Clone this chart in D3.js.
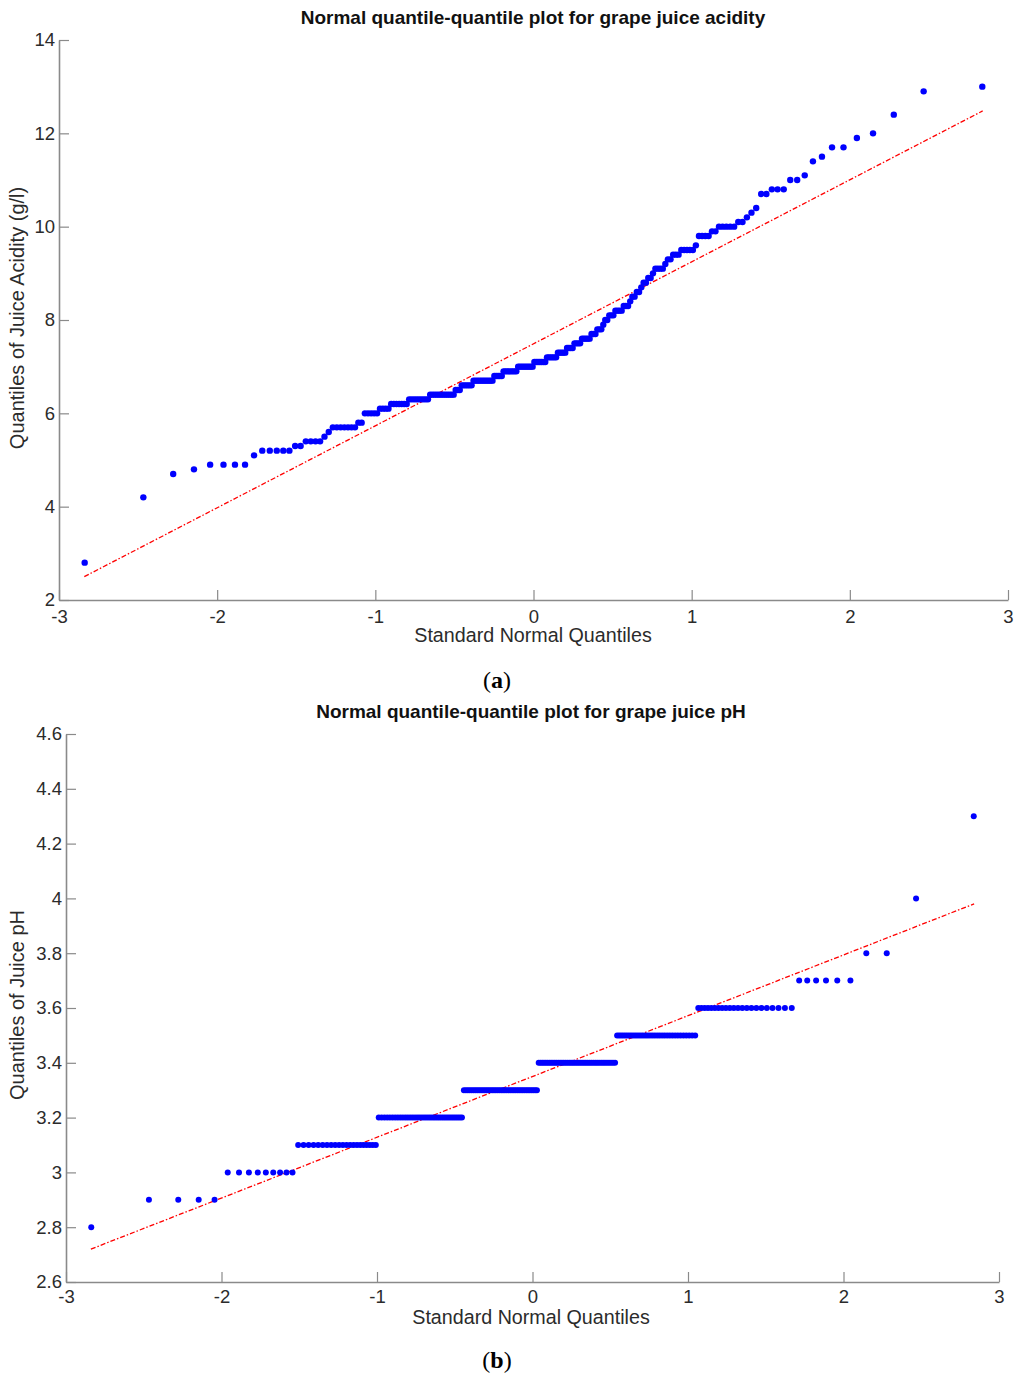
<!DOCTYPE html>
<html><head><meta charset="utf-8">
<script src="https://cdn.jsdelivr.net/npm/d3@7"></script>
<style>body{margin:0;background:#fff}svg{display:block}</style>
</head><body>
<svg id="c" width="1024" height="1384"></svg>
<script>
// ---------- data ----------
const xTicks = [-3, -2, -1, 0, 1, 2, 3];
const xTickLabels = ["-3", "-2", "-1", "0", "1", "2", "3"];

// sorted grape-juice acidity sample (g/l): distinct values and how many samples share each
const acidityValues = [2.8,4.2,4.7,4.8,4.9,5.1,5.2,5.3,5.4,5.5,5.6,5.7,5.8,6.0,6.1,6.2,6.3,6.4,6.5,6.6,6.7,6.8,6.9,7.0,7.1,7.2,7.3,7.4,7.5,7.6,7.7,7.8,7.9,8.0,8.1,8.2,8.3,8.4,8.5,8.6,8.7,8.8,8.9,9.0,9.1,9.2,9.3,9.4,9.5,9.6,9.8,9.9,10.0,10.1,10.2,10.3,10.4,10.7,10.8,11.0,11.1,11.4,11.5,11.7,11.9,12.0,12.4,12.9,13.0];
const acidityCounts = [1,1,1,1,4,1,5,2,4,1,1,7,2,5,4,7,9,12,3,6,11,5,8,9,7,6,5,4,4,5,3,3,1,2,3,4,3,1,2,2,1,2,2,1,4,1,2,3,5,1,4,2,5,2,1,1,1,2,3,2,1,1,1,2,1,1,1,1,1];
const acidityYTicks = [2, 4, 6, 8, 10, 12, 14];
const acidityYTickLabels = ["2", "4", "6", "8", "10", "12", "14"];
const acidityLineX = [-2.84, 2.84];
const acidityLineY = [2.5, 12.48];

// sorted grape-juice pH sample: distinct values and counts
const phValues = [2.8, 2.9, 3.0, 3.1, 3.2, 3.3, 3.4, 3.5, 3.6, 3.7, 3.8, 4.0, 4.3];
const phCounts = [1, 4, 9, 21, 37, 41, 42, 33, 22, 6, 2, 1, 1];
const phYTicks = [2.6, 2.8, 3.0, 3.2, 3.4, 3.6, 3.8, 4.0, 4.2, 4.4, 4.6];
const phYTickLabels = ["2.6", "2.8", "3", "3.2", "3.4", "3.6", "3.8", "4", "4.2", "4.4", "4.6"];
const phLineX = [-2.84, 2.84];
const phLineY = [2.72, 3.98];

// ---------- helpers ----------
// inverse standard normal CDF (Acklam) – theoretical quantiles of a Q-Q plot
function probit(p) {
  const a = [-3.969683028665376e+01, 2.209460984245205e+02, -2.759285104469687e+02, 1.383577518672690e+02, -3.066479806614716e+01, 2.506628277459239e+00];
  const b = [-5.447609879822406e+01, 1.615858368580409e+02, -1.556989798598866e+02, 6.680131188771972e+01, -1.328068155288572e+01];
  const c = [-7.784894002430293e-03, -3.223964580411365e-01, -2.400758277161838e+00, -2.549732539343734e+00, 4.374664141464968e+00, 2.938163982698783e+00];
  const d = [7.784695709041462e-03, 3.224671290700398e-01, 2.445134137142996e+00, 3.754408661907416e+00];
  const pl = 0.02425, ph = 1 - pl;
  let q, r;
  if (p < pl) {
    q = Math.sqrt(-2 * Math.log(p));
    return (((((c[0]*q+c[1])*q+c[2])*q+c[3])*q+c[4])*q+c[5]) / ((((d[0]*q+d[1])*q+d[2])*q+d[3])*q+1);
  }
  if (p <= ph) {
    q = p - 0.5; r = q * q;
    return (((((a[0]*r+a[1])*r+a[2])*r+a[3])*r+a[4])*r+a[5])*q / (((((b[0]*r+b[1])*r+b[2])*r+b[3])*r+b[4])*r+1);
  }
  q = Math.sqrt(-2 * Math.log(1 - p));
  return -(((((c[0]*q+c[1])*q+c[2])*q+c[3])*q+c[4])*q+c[5]) / ((((d[0]*q+d[1])*q+d[2])*q+d[3])*q+1);
}

function qqPoints(values, counts) {
  const n = d3.sum(counts);
  const pts = [];
  let i = 0;
  values.forEach((v, k) => {
    for (let j = 0; j < counts[k]; j++) {
      i++;
      pts.push({ z: probit((i - 0.5) / n), v });
    }
  });
  return pts;
}

const svg = d3.select("#c");
const FONT = "'Liberation Sans', Arial, Helvetica, sans-serif";
const AXIS = "#8a8a8a";
const TXT = "#2b2b2b";

function panel(cfg) {
  const x = d3.scaleLinear().domain([-3, 3]).range([cfg.left, cfg.right]);
  const y = d3.scaleLinear().domain(cfg.yDomain).range([cfg.bottom, cfg.top]);
  const g = svg.append("g");

  // title
  g.append("text").attr("x", cfg.titleX).attr("y", cfg.titleY)
    .attr("text-anchor", "middle").attr("font-family", FONT).attr("font-weight", "bold")
    .attr("font-size", 19).attr("fill", "#111").text(cfg.title);

  // axes
  const xa = d3.axisBottom(x).tickValues(xTicks).tickFormat((d, i) => xTickLabels[i])
    .tickSizeInner(-10).tickSizeOuter(0).tickPadding(cfg.xPad);
  const ya = d3.axisLeft(y).tickValues(cfg.yTicks).tickFormat((d, i) => cfg.yTickLabels[i])
    .tickSizeInner(-10).tickSizeOuter(0).tickPadding(4);
  const gx = g.append("g").attr("transform", `translate(0,${cfg.bottom})`).call(xa);
  const gy = g.append("g").attr("transform", `translate(${cfg.left},0)`).call(ya);
  [gx, gy].forEach(a => {
    a.select(".domain").attr("stroke", AXIS).attr("stroke-width", 1.6);
    a.selectAll(".tick line").attr("stroke", AXIS).attr("stroke-width", 1.2);
    a.selectAll(".tick text").attr("fill", TXT).attr("font-family", FONT).attr("font-size", cfg.tickFont);
  });

  // axis labels
  g.append("text").attr("x", cfg.xLabelX).attr("y", cfg.xLabelY)
    .attr("text-anchor", "middle").attr("font-family", FONT).attr("font-size", 19.7)
    .attr("fill", TXT).text("Standard Normal Quantiles");
  g.append("text").attr("transform", `translate(${cfg.yLabelX},${cfg.yLabelCY}) rotate(-90)`)
    .attr("text-anchor", "middle").attr("font-family", FONT).attr("font-size", 20)
    .attr("fill", TXT).text(cfg.yLabel);

  // reference line
  g.append("line")
    .attr("x1", x(cfg.lineX[0])).attr("y1", y(cfg.lineY[0]))
    .attr("x2", x(cfg.lineX[1])).attr("y2", y(cfg.lineY[1]))
    .attr("stroke", "#ff0000").attr("stroke-width", 1.3).attr("stroke-dasharray", "5,2,1.5,2");

  // sample points
  g.append("g").selectAll("circle").data(qqPoints(cfg.values, cfg.counts)).join("circle")
    .attr("cx", d => x(d.z)).attr("cy", d => y(d.v)).attr("r", cfg.r).attr("fill", "#0000ff");

  // panel letter
  g.append("text").attr("x", 497).attr("y", cfg.letterY).attr("text-anchor", "middle")
    .attr("font-family", "'Liberation Serif', 'Times New Roman', serif").attr("font-size", 24)
    .attr("fill", "#000")
    .call(t => {
      t.append("tspan").text("(");
      t.append("tspan").attr("font-weight", "bold").text(cfg.letter);
      t.append("tspan").text(")");
    });
}

panel({
  title: "Normal quantile-quantile plot for grape juice acidity", titleX: 533, titleY: 24,
  left: 59, right: 1008, top: 40, bottom: 600, yDomain: [2, 14],
  yTicks: acidityYTicks, yTickLabels: acidityYTickLabels,
  values: acidityValues, counts: acidityCounts, lineX: acidityLineX, lineY: acidityLineY,
  yLabel: "Quantiles of Juice Acidity (g/l)", yLabelX: 24, yLabelCY: 318,
  xLabelX: 533, xLabelY: 642, xPad: 9.5, tickFont: 18.5, r: 3.2, letter: "a", letterY: 688
});

panel({
  title: "Normal quantile-quantile plot for grape juice pH", titleX: 531, titleY: 718,
  left: 66, right: 999, top: 734, bottom: 1282, yDomain: [2.6, 4.6],
  yTicks: phYTicks, yTickLabels: phYTickLabels,
  values: phValues, counts: phCounts, lineX: phLineX, lineY: phLineY,
  yLabel: "Quantiles of Juice pH", yLabelX: 24, yLabelCY: 1005,
  xLabelX: 531, xLabelY: 1324, xPad: 8, tickFont: 18.5, r: 3, letter: "b", letterY: 1368
});
</script>
</body></html>
